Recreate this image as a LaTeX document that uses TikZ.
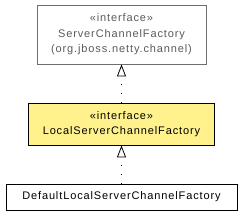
\documentclass[tikz,border=0pt]{standalone}
\usepackage{fontspec}
\setmainfont[LetterSpace=8]{Liberation Sans}
\usetikzlibrary{arrows.meta,positioning}
\definecolor{noteyellow}{RGB}{255,242,140}
\definecolor{greyline}{RGB}{110,110,110}
\definecolor{greytext}{RGB}{90,90,90}

\begin{document}
\begin{tikzpicture}[x=1pt,y=-1pt]

		\tikzset{cls/.style={draw,line width=0.8pt,inner sep=0pt,align=center,font=\fontsize{11}{15.5}\selectfont}}
		\tikzset{realize/.style={line width=0.8pt,dash pattern=on 1pt off 8pt,-{Triangle[open,length=12pt,width=9pt,line width=0.8pt]}}}

		\useasboundingbox (0,0) rectangle (243,216);

		\node[cls, greyline, text=greytext, minimum width=169pt, minimum height=59pt] (scf) at (121.5,34.5) {«interface»\\ServerChannelFactory\\(org.jboss.netty.channel)};
		\node[cls, fill=noteyellow, minimum width=186pt, minimum height=42pt] (lscf) at (121.5,124) {«interface»\\LocalServerChannelFactory};
		\node[cls, minimum width=231pt, minimum height=26pt] (dlscf) at (121.5,197) {DefaultLocalServerChannelFactory};

		\path[draw, realize] (lscf) to (scf);
		\path[draw, realize] (dlscf) to (lscf);

	\end{tikzpicture}
\end{document}
